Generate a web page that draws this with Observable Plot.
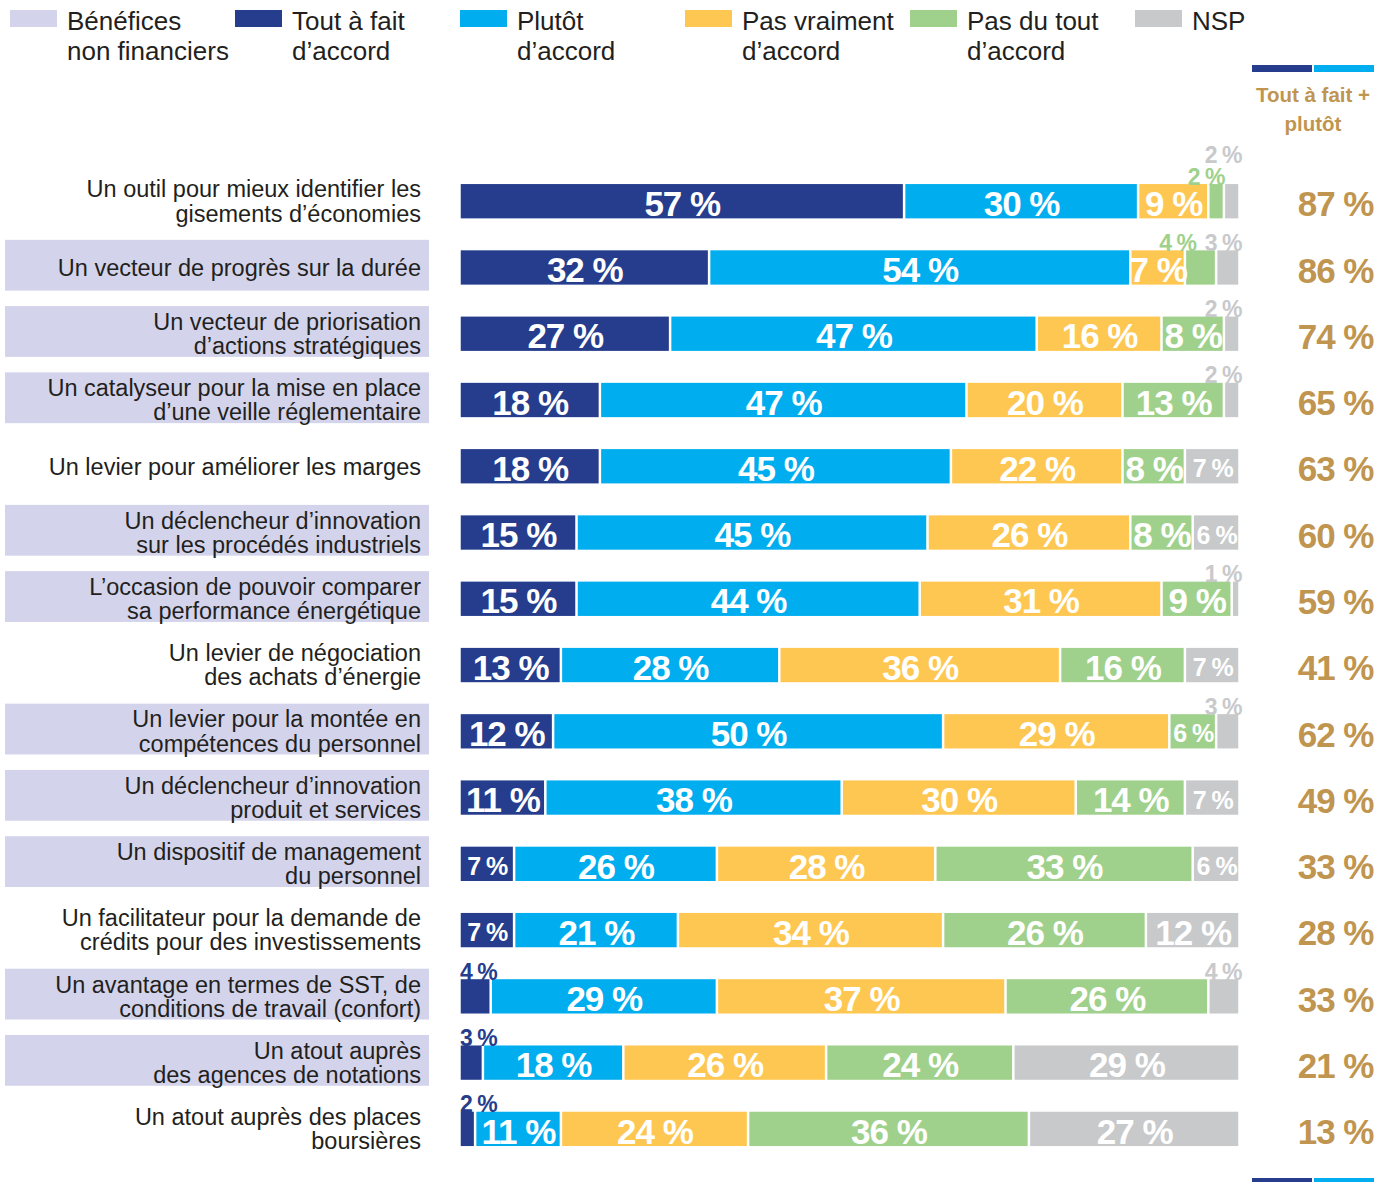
<!DOCTYPE html>
<html><head><meta charset="utf-8">
<script src="https://cdn.jsdelivr.net/npm/d3@7"></script>
<script src="https://cdn.jsdelivr.net/npm/@observablehq/plot@0.6"></script>
<style>
body{margin:0;background:#fff;font-family:"Liberation Sans",Arial,sans-serif;}
#wrap{position:relative;width:1392px;height:1182px;overflow:hidden;background:#fff}
#topDiv{position:relative;height:130px}
#chart svg{display:block}
.sw{position:absolute;top:10px;width:47px;height:17px}
.lt{position:absolute;top:6px;font-size:26px;line-height:30px;color:#231f20;white-space:pre}
.hb{position:absolute;height:7px;width:60px}
#hdr{position:absolute;left:1243px;top:80px;width:140px;text-align:center;font-weight:bold;font-size:20.5px;line-height:29px;color:#bf9550}
</style>
</head><body>
<div id="wrap"><div id="topDiv"></div><div id="chart"></div></div>
<script>
const legendLabels = ["Bénéfices\nnon financiers","Tout à fait\nd’accord","Plutôt\nd’accord","Pas vraiment\nd’accord","Pas du tout\nd’accord","NSP"];
const legendColors = ["#d3d4eb","#253d8c","#00aeef","#fec751","#a0d18c","#c8c9cb"];
const headerLabel = "Tout à fait +\nplutôt";

const categories = [
  "Un outil pour mieux identifier les\ngisements d’économies",
  "Un vecteur de progrès sur la durée",
  "Un vecteur de priorisation\nd’actions stratégiques",
  "Un catalyseur pour la mise en place\nd’une veille réglementaire",
  "Un levier pour améliorer les marges",
  "Un déclencheur d’innovation\nsur les procédés industriels",
  "L’occasion de pouvoir comparer\nsa performance énergétique",
  "Un levier de négociation\ndes achats d’énergie",
  "Un levier pour la montée en\ncompétences du personnel",
  "Un déclencheur d’innovation\nproduit et services",
  "Un dispositif de management\ndu personnel",
  "Un facilitateur pour la demande de\ncrédits pour des investissements",
  "Un avantage en termes de SST, de\nconditions de travail (confort)",
  "Un atout auprès\ndes agences de notations",
  "Un atout auprès des places\nboursières"
];
const highlighted = [false,true,true,true,false,true,true,false,true,true,true,false,true,true,false];
const toutAFait   = [57,32,27,18,18,15,15,13,12,11,7,7,4,3,2];
const plutot      = [30,54,47,47,45,45,44,28,50,38,26,21,29,18,11];
const pasVraiment = [9,7,16,20,22,26,31,36,29,30,28,34,37,26,24];
const pasDuTout   = [2,4,8,13,8,8,9,16,6,14,33,26,26,24,36];
const nsp         = [2,3,2,2,7,6,1,7,3,7,6,12,4,29,27];
const totals      = [87,86,74,65,63,60,59,41,62,49,33,28,33,21,13];

const keys = ["tout","plutot","pasVraiment","pasDuTout","nsp"];
const colors = legendColors.slice(1);
const series = [toutAFait, plutot, pasVraiment, pasDuTout, nsp];
const brown = "#bf9550";

// legend (HTML)
const topDiv = document.getElementById("topDiv");
legendLabels.forEach((l,i)=>{
  const left = 10 + i*225;
  const sw = document.createElement("div"); sw.className="sw"; sw.style.left=left+"px"; sw.style.background=legendColors[i]; topDiv.appendChild(sw);
  const t = document.createElement("div"); t.className="lt"; t.style.left=(left+57)+"px"; t.textContent=l; topDiv.appendChild(t);
});
const hb1=document.createElement("div"); hb1.className="hb"; hb1.style.cssText+="left:1252px;top:65px;background:"+colors[0]; topDiv.appendChild(hb1);
const hb2=document.createElement("div"); hb2.className="hb"; hb2.style.cssText+="left:1314px;top:65px;background:"+colors[1]; topDiv.appendChild(hb2);
const hdr=document.createElement("div"); hdr.id="hdr"; hdr.style.whiteSpace="pre"; hdr.textContent=headerLabel; topDiv.appendChild(hdr);
const wrap=document.getElementById("wrap");
const bb1=document.createElement("div"); bb1.className="hb"; bb1.style.cssText+="left:1252px;top:1178px;background:"+colors[0]; wrap.appendChild(bb1);
const bb2=document.createElement("div"); bb2.className="hb"; bb2.style.cssText+="left:1314px;top:1178px;background:"+colors[1]; wrap.appendChild(bb2);

// long table
const rows = [];
categories.forEach((c,i)=>{
  let acc = 0;
  series.forEach((s,k)=>{ rows.push({cat:c, key:keys[k], value:s[i], x1:acc, x2:acc+s[i], row:i}); acc += s[i]; });
});
const fmt = d => `${d.value} %`;
const isAbove = d => d.value <= 4;
const isSmall = d => !isAbove(d) && d.value <= 7 && d.key !== "pasVraiment";
const inLarge = rows.filter(d => !isAbove(d) && !isSmall(d));
const inSmall = rows.filter(isSmall);
const above = rows.filter(isAbove);
const grayAboveRows = new Set(above.filter(d=>d.key==="nsp").map(d=>d.row));
const aboveDark = above.filter(d=>d.key==="tout");
const aboveGreenStack = above.filter(d=>d.key==="pasDuTout" && !(grayAboveRows.has(d.row) && d.value>2));
const aboveGreenShift = above.filter(d=>d.key==="pasDuTout" && grayAboveRows.has(d.row) && d.value>2);
const stackedGreenRows = new Set(aboveGreenStack.map(d=>d.row));
const aboveGray0 = above.filter(d=>d.key==="nsp" && !stackedGreenRows.has(d.row));
const aboveGray1 = above.filter(d=>d.key==="nsp" && stackedGreenRows.has(d.row));

const plot = Plot.plot({
  width: 1392, height: 1052,
  marginLeft: 459.5, marginRight: 152.5, marginTop: 0, marginBottom: 0,
  style: {fontFamily: "'Liberation Sans', Arial, sans-serif", background: "white"},
  x: {domain: [0,100], axis: null},
  y: {domain: categories, range: [22.1, 1048], padding: 0.4823, round: false, axis: null},
  color: {domain: keys, range: colors},
  marks: [
    Plot.barX(categories.filter((c,i)=>highlighted[i]), {y: d=>d, x1: 0, x2: 0, fill: legendColors[0],
      insetLeft: -454.5, insetRight: 30.5, insetTop: -10.5, insetBottom: -6}),
    Plot.text(categories, {y: d=>d, text: d=>d, frameAnchor: "left", dx: -39, textAnchor: "end",
      fontSize: 23.5, lineHeight: 1.03, fill: "#231f20"}),
    Plot.barX(rows, {x1: "x1", x2: "x2", y: "cat", fill: "key", insetLeft: 1.25, insetRight: 1.25}),
    Plot.text(inLarge, {x: d=>(d.x1+d.x2)/2, y: "cat", text: fmt, fill: "white", fontSize: 35, fontWeight: "bold", dy: 3}),
    Plot.text(inSmall, {x: d=>(d.x1+d.x2)/2, y: "cat", text: fmt, fill: "white", fontSize: 25, fontWeight: "bold", dy: 2.5}),
    Plot.text(aboveDark, {x: "x1", y: "cat", text: fmt, fill: colors[0], fontSize: 23, fontWeight: "bold", textAnchor: "start", lineAnchor: "bottom", dy: -17}),
    Plot.text(aboveGreenStack, {x: "x2", y: "cat", text: fmt, fill: colors[3], fontSize: 23, fontWeight: "bold", textAnchor: "end", lineAnchor: "bottom", dy: -17}),
    Plot.text(aboveGreenShift, {x: d=>d.x2 + nsp[d.row], y: "cat", text: fmt, fill: colors[3], fontSize: 23, fontWeight: "bold", textAnchor: "end", lineAnchor: "bottom", dy: -17, dx: -44}),
    Plot.text(aboveGray0, {x: "x2", y: "cat", text: fmt, fill: colors[4], fontSize: 23, fontWeight: "bold", textAnchor: "end", lineAnchor: "bottom", dy: -17, dx: 1.5}),
    Plot.text(aboveGray1, {x: "x2", y: "cat", text: fmt, fill: colors[4], fontSize: 23, fontWeight: "bold", textAnchor: "end", lineAnchor: "bottom", dy: -38.5, dx: 1.5}),
    Plot.text(categories, {y: d=>d, text: (d,i)=>`${totals[i]} %`, frameAnchor: "right", dx: 133.5, textAnchor: "end",
      fill: brown, fontSize: 35, fontWeight: "bold", dy: 3.5})
  ]
});
document.getElementById("chart").appendChild(plot);
d3.select(plot).selectAll('g[font-weight="bold"]').style("letter-spacing", "-1px");
</script>
</body></html>
